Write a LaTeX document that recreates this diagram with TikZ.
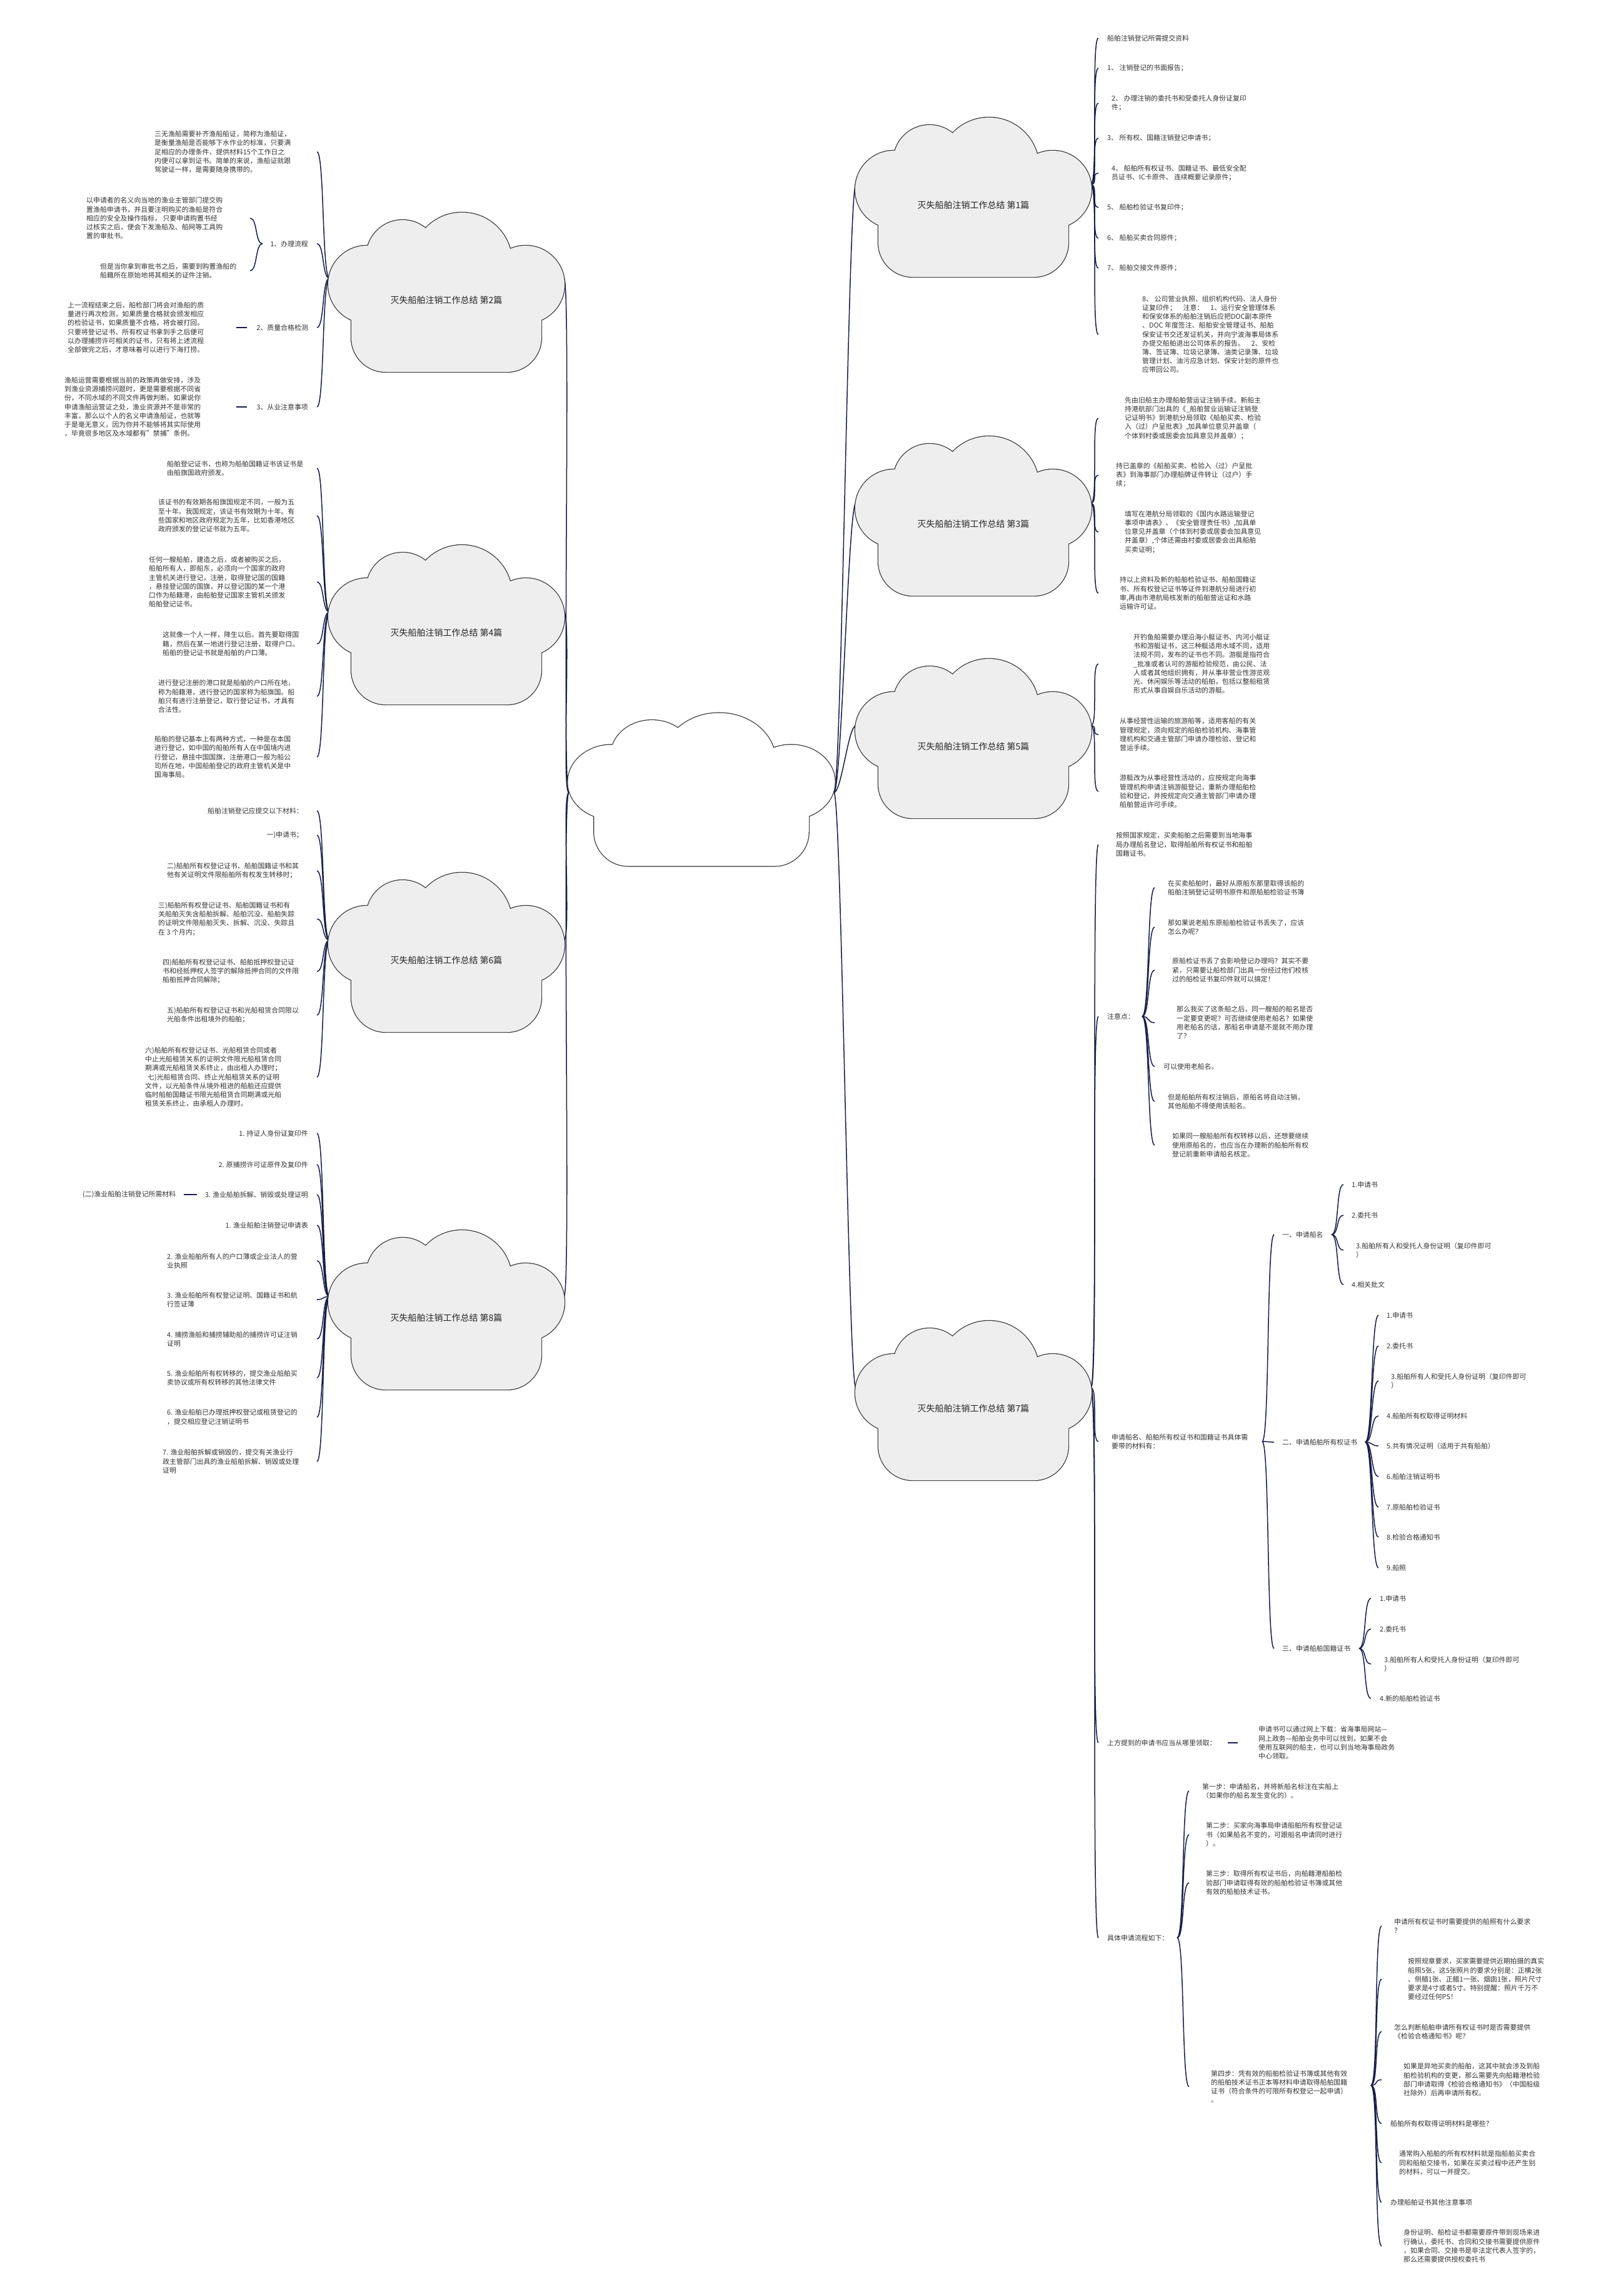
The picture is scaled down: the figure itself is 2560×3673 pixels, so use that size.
\documentclass[tikz,border=0pt]{standalone}
\usepackage{fontspec}
\setmainfont{Noto Sans CJK SC}
\usepackage{xcolor}
\usepackage{tikz}
\usetikzlibrary{calc}
\definecolor{navy}{RGB}{22,27,72}
\definecolor{ink}{RGB}{51,51,51}
\definecolor{puff}{RGB}{238,238,238}

% cloud outline: puffs drawn with a wide stroke, then filled over one by one
\tikzset{
  pics/cloudpic/.style={code={
    \draw[black!80, line width=2.4pt]
      (-127,-25) circle[radius=62] (-70,-70) circle[radius=58]
      (25,-60) circle[radius=80] (127,-25) circle[radius=62]
      [rounded corners=55pt] (-152,-30) rectangle (152,115);
    \fill[#1] (-127,-25) circle[radius=62];
    \fill[#1] (-70,-70) circle[radius=58];
    \fill[#1] (25,-60) circle[radius=80];
    \fill[#1] (127,-25) circle[radius=62];
    \fill[#1, rounded corners=55pt] (-152,-30) rectangle (152,115);
  }},
}

\begin{document}
\begin{tikzpicture}[
  x=1pt, y=-1pt,
  every node/.style={font=\fontsize{10.9}{14.2}\selectfont, text=ink, inner sep=0pt, align=left},
  txt/.style={anchor=west},
  rtxt/.style={anchor=east, align=right},
  topic/.style={font=\fontsize{14}{16}\selectfont, text=black!85},
  link/.style={draw=navy, line width=1.5pt},
  lbrace/.style={link, to path={.. controls +(-12,0) and +(12,0) .. (\tikztotarget)}},
  rbrace/.style={link, to path={.. controls +(12,0) and +(-12,0) .. (\tikztotarget)}},
]
\fill[white] (0,0) rectangle (2560,3673);
\useasboundingbox (0,0) rectangle (2560,3673);

% meeting points of the branches
\coordinate (hl) at (910,1268);
\coordinate (hr) at (1334,1268);
\coordinate (p1) at (1745,295);
\coordinate (p3) at (1745,805);
\coordinate (p5) at (1745,1161);
\coordinate (p7) at (1745,2220);
\coordinate (p2) at (527,445);
\coordinate (p4) at (527,979);
\coordinate (p6) at (527,1504);
\coordinate (p8) at (527,2074);
\coordinate (el) at (507,0);
\coordinate (er) at (1757,0);

% Part 2 (left, top)
\node[txt] (t2a) at (247,243) {三无渔船需要补齐渔船船证，简称为渔船证，\\是衡量渔船是否能够下水作业的标准，只要满\\足相应的办理条件，提供材料15个工作日之\\内便可以拿到证书。简单的来说，渔船证就跟\\驾驶证一样，是需要随身携带的。};
\node[rtxt] (l21) at (493,390) {1、办理流程};
\node[txt] (t2b) at (138,349) {以申请者的名义向当地的渔业主管部门提交购\\置渔船申请书，并且要注明购买的渔船是符合\\相应的安全及操作指标， 只要申请购置书经\\过核实之后，便会下发渔船及、船网等工具购\\置的审批书。};
\node[txt] (t2c) at (160,433) {但是当你拿到审批书之后，需要到购置渔船的\\船籍所在原始地将其相关的证件注销。};
\node[rtxt] (l22) at (493,524) {2、质量合格检测};
\node[txt] (t2d) at (108,524) {上一流程结束之后，船检部门将会对渔船的质\\量进行再次检测，如果质量合格就会颁发相应\\的检验证书，如果质量不合格，将会被打回。\\只要将登记证书、所有权证书拿到手之后便可\\以办理捕捞许可相关的证书，只有将上述流程\\全部做完之后，才意味着可以进行下海打捞。};
\node[rtxt] (l23) at (493,651) {3、从业注意事项};
\node[txt] (t2e) at (103,651) {渔船运营需要根据当前的政策再做安排，涉及\\到渔业资源捕捞问题时，更是需要根据不同省\\份，不同水域的不同文件再做判断。如果说你\\申请渔船运营证之处，渔业资源并不是非常的\\丰富，那么以个人的名义申请渔船证，也就等\\于是毫无意义，因为你并不能够将其实际使用\\，毕竟很多地区及水域都有"禁捕"条例。};
\coordinate (b21) at (420,390);
\coordinate (e21) at (400,0);

% Part 4
\node[txt] (t4a) at (267,749) {船舶登记证书，也称为船舶国籍证书该证书是\\由船旗国政府颁发。};
\node[txt] (t4b) at (253,825) {该证书的有效期各船旗国规定不同，一般为五\\至十年。我国规定，该证书有效期为十年。有\\些国家和地区政府规定为五年，比如香港地区\\政府颁发的登记证书就为五年。};
\node[txt] (t4c) at (238,931) {任何一艘船舶，建造之后，或者被购买之后，\\船舶所有人，即船东，必须向一个国家的政府\\主管机关进行登记，注册，取得登记国的国籍\\，悬挂登记国的国旗，并以登记国的某一个港\\口作为船籍港，由船舶登记国家主管机关颁发\\船舶登记证书。};
\node[txt] (t4d) at (260,1030) {这就像一个人一样，降生以后，首先要取得国\\籍，然后在某一地进行登记注册，取得户口。\\船舶的登记证书就是船舶的户口薄。};
\node[txt] (t4e) at (253,1114) {进行登记注册的港口就是船舶的户口所在地，\\称为船籍港，进行登记的国家称为船旗国。船\\舶只有进行注册登记，取行登记证书，才具有\\合法性。};
\node[txt] (t4f) at (247,1211) {船舶的登记基本上有两种方式，一种是在本国\\进行登记，如中国的船舶所有人在中国境内进\\行登记，悬挂中国国旗，注册港口一般为船公\\司所在地，中国船舶登记的政府主管机关是中\\国海事局。};

% Part 6
\node[rtxt] (t6a) at (485,1297) {船舶注销登记应提交以下材料：};
\node[rtxt] (t6b) at (485,1336) {一)申请书；};
\node[txt] (t6c) at (267,1393) {二)船舶所有权登记证书、船舶国籍证书和其\\他有关证明文件限船舶所有权发生转移时；};
\node[txt] (t6d) at (253,1470) {三)船舶所有权登记证书、船舶国籍证书和有\\关船舶灭失含船舶拆解、船舶沉没、船舶失踪\\的证明文件限船舶灭失、拆解、沉没、失踪且\\在 3 个月内；};
\node[txt] (t6e) at (260,1554) {四)船舶所有权登记证书、船舶抵押权登记证\\书和经抵押权人签字的解除抵押合同的文件限\\船舶抵押合同解除；};
\node[txt] (t6f) at (267,1624) {五)船舶所有权登记证书和光船租赁合同限以\\光船条件出租境外的船舶；};
\node[txt] (t6g) at (232,1723) {六)船舶所有权登记证书、光船租赁合同或者\\中止光船租赁关系的证明文件限光船租赁合同\\期满或光船租赁关系终止，由出租人办理时；\\\hspace*{4pt}七)光船租赁合同、终止光船租赁关系的证明\\文件，以光船条件从境外租进的船舶还应提供\\临时船舶国籍证书限光船租赁合同期满或光船\\租赁关系终止，由承租人办理时。};

% Part 8
\node[rtxt] (t8a) at (493,1813) {1. 持证人身份证复印件};
\node[rtxt] (t8b) at (493,1863) {2. 原捕捞许可证原件及复印件};
\node[rtxt] (t8c) at (493,1911) {3. 渔业船舶拆解、销毁或处理证明};
\node[txt] (t8x) at (132,1911) {(二)渔业船舶注销登记所需材料};
\node[rtxt] (t8d) at (493,1960) {1. 渔业船舶注销登记申请表};
\node[txt] (t8e) at (267,2017) {2. 渔业船舶所有人的户口薄或企业法人的营\\业执照};
\node[txt] (t8f) at (267,2079) {3. 渔业船舶所有权登记证明、国籍证书和航\\行签证薄};
\node[txt] (t8g) at (267,2142) {4. 捕捞渔船和捕捞辅助船的捕捞许可证注销\\证明};
\node[txt] (t8h) at (267,2204) {5. 渔业船舶所有权转移的，提交渔业船舶买\\卖协议或所有权转移的其他法律文件};
\node[txt] (t8i) at (267,2267) {6. 渔业船舶已办理抵押权登记或租赁登记的\\，提交相应登记注销证明书};
\node[txt] (t8j) at (260,2338) {7. 渔业船舶拆解或销毁的，提交有关渔业行\\政主管部门出具的渔业船舶拆解、销毁或处理\\证明};

% Part 1 (right, top)
\node[txt] (r1a) at (1771,61) {船舶注销登记所需提交资料};
\node[txt] (r1b) at (1771,109) {1、 注销登记的书面报告；};
\node[txt] (r1c) at (1778,165) {2、 办理注销的委托书和受委托人身份证复印\\件；};
\node[txt] (r1d) at (1771,221) {3、 所有权、国籍注销登记申请书；};
\node[txt] (r1e) at (1778,277) {4、 船舶所有权证书、国籍证书、最低安全配\\员证书、IC卡原件、 连续概要记录原件；};
\node[txt] (r1f) at (1771,332) {5、 船舶检验证书复印件；};
\node[txt] (r1g) at (1771,381) {6、 船舶买卖合同原件；};
\node[txt] (r1h) at (1771,429) {7、 船舶交接文件原件；};
\node[txt] (r1i) at (1827,535) {8、 公司营业执照、组织机构代码、法人身份\\证复印件；\quad 注意：\quad 1、运行安全管理体系\\和保安体系的船舶注销后应把DOC副本原件\\、DOC 年度签注、船舶安全管理证书、船舶\\保安证书交还发证机关，并向宁波海事局体系\\办提交船舶退出公司体系的报告。\quad 2、安检\\簿、签证簿、垃圾记录簿、油类记录簿、垃圾\\管理计划、油污应急计划、保安计划的原件也\\应带回公司。};

% Part 3
\node[txt] (r3a) at (1799,669) {先由旧船主办理船舶营运证注销手续。新船主\\持港航部门出具的《\_船舶营业运输证注销登\\记证明书》到港航分局领取《船舶买卖、检验\\入（过）户呈批表》,加具单位意见并盖章（\\个体到村委或居委会加具意见并盖章）；};
\node[txt] (r3b) at (1785,760) {持已盖章的《船舶买卖、检验入（过）户呈批\\表》到海事部门办理船牌证件转让（过户）手\\续；};
\node[txt] (r3c) at (1799,851) {填写在港航分局领取的《国内水路运输登记\\事项申请表》、《安全管理责任书》,加具单\\位意见并盖章（个体到村委或居委会加具意见\\并盖章）,个体还需由村委或居委会出具船舶\\买卖证明；};
\node[txt] (r3d) at (1791,949) {持以上资料及新的船舶检验证书、船舶国籍证\\书、所有权登记证书等证件到港航分局进行初\\审,再由市港航局核发新的船舶营运证和水路\\运输许可证。};

% Part 5
\node[txt] (r5a) at (1813,1062) {开钓鱼船需要办理沿海小艇证书、内河小艇证\\书和游艇证书，这三种艇适用水域不同，适用\\法规不同，发布的证书也不同。游艇是指符合\\\_批准或者认可的游艇检验规范，由公民、法\\人或者其他组织拥有，并从事非营业性游览观\\光、休闲娱乐等活动的船舶，包括以整船租赁\\形式从事自娱自乐活动的游艇。};
\node[txt] (r5b) at (1791,1175) {从事经营性运输的旅游船等，适用客船的有关\\管理规定，须向规定的船舶检验机构、海事管\\理机构和交通主管部门申请办理检验、登记和\\营运手续。};
\node[txt] (r5c) at (1791,1266) {游艇改为从事经营性活动的，应按规定向海事\\管理机构申请注销游艇登记，重新办理船舶检\\验和登记，并按规定向交通主管部门申请办理\\船舶营运许可手续。};

% Part 7
\node[txt] (r7a) at (1785,1351) {按照国家规定，买卖船舶之后需要到当地海事\\局办理船名登记，取得船舶所有权证书和船舶\\国籍证书。};
\node[txt] (r7b) at (1771,1626) {注意点：};
\node[txt] (n1) at (1868,1420) {在买卖船舶时，最好从原船东那里取得该船的\\船舶注销登记证明书原件和原船舶检验证书簿};
\node[txt] (n2) at (1868,1483) {那如果说老船东原船舶检验证书丢失了，应该\\怎么办呢？};
\node[txt] (n3) at (1875,1552) {原船检证书丢了会影响登记办理吗？其实不要\\紧，只需要让船检部门出具一份经过他们校核\\过的船检证书复印件就可以搞定！};
\node[txt] (n4) at (1882,1636) {那么我买了这条船之后，同一艘船的船名是否\\一定要变更呢？可否继续使用老船名？如果使\\用老船名的话，那船名申请是不是就不用办理\\了？};
\node[txt] (n5) at (1861,1706) {可以使用老船名。};
\node[txt] (n6) at (1868,1762) {但是船舶所有权注销后，原船名将自动注销，\\其他船舶不得使用该船名。};
\node[txt] (n7) at (1875,1832) {如果同一艘船舶所有权转移以后，还想要继续\\使用原船名的，也应当在办理新的船舶所有权\\登记前重新申请船名核定。};
\node[txt] (r7c) at (1778,2306) {申请船名、船舶所有权证书和国籍证书具体需\\要带的材料有：};
\node[txt] (s1) at (2051,1975) {一、申请船名};
\node[txt] (s1a) at (2162,1895) {1.申请书};
\node[txt] (s1b) at (2162,1944) {2.委托书};
\node[txt] (s1c) at (2169,2000) {3.船舶所有人和受托人身份证明（复印件即可\\）};
\node[txt] (s1d) at (2162,2055) {4.相关批文};
\node[txt] (s2) at (2051,2307) {二、申请船舶所有权证书};
\node[txt] (s2a) at (2218,2104) {1.申请书};
\node[txt] (s2b) at (2218,2153) {2.委托书};
\node[txt] (s2c) at (2225,2209) {3.船舶所有人和受托人身份证明（复印件即可\\）};
\node[txt] (s2d) at (2218,2265) {4.船舶所有权取得证明材料};
\node[txt] (s2e) at (2218,2313) {5.共有情况证明（适用于共有船舶）};
\node[txt] (s2f) at (2218,2362) {6.船舶注销证明书};
\node[txt] (s2g) at (2218,2411) {7.原船舶检验证书};
\node[txt] (s2h) at (2218,2459) {8.检验合格通知书};
\node[txt] (s2i) at (2218,2508) {9.船照};
\node[txt] (s3) at (2051,2637) {三、申请船舶国籍证书};
\node[txt] (s3a) at (2207,2557) {1.申请书};
\node[txt] (s3b) at (2207,2606) {2.委托书};
\node[txt] (s3c) at (2214,2662) {3.船舶所有人和受托人身份证明（复印件即可\\）};
\node[txt] (s3d) at (2207,2717) {4.新的船舶检验证书};
\node[txt] (r7d) at (1771,2788) {上方提到的申请书应当从哪里领取：};
\node[txt] (r7x) at (2013,2788) {申请书可以通过网上下载：省海事局网站—\\网上政务—船舶业务中可以找到，如果不会\\使用互联网的船主，也可以到当地海事局政务\\中心领取。};
\node[txt] (r7e) at (1771,3100) {具体申请流程如下：};
\node[txt] (f1) at (1923,2865) {第一步：申请船名，并将新船名标注在实船上\\（如果你的船名发生变化的）。};
\node[txt] (f2) at (1929,2935) {第二步：买家向海事局申请船舶所有权登记证\\书（如果船名不变的，可跟船名申请同时进行\\）。};
\node[txt] (f3) at (1929,3012) {第三步：取得所有权证书后，向船籍港船舶检\\验部门申请取得有效的船舶检验证书簿或其他\\有效的船舶技术证书。};
\node[txt] (f4) at (1937,3338) {第四步：凭有效的船舶检验证书簿或其他有效\\的船舶技术证书正本等材料申请取得船舶国籍\\证书（符合条件的可限所有权登记一起申请）\\。};
\node[txt] (q1) at (2230,3081) {申请所有权证书时需要提供的船照有什么要求\\？};
\node[txt] (a1) at (2252,3166) {按照规章要求，买家需要提供近期拍摄的真实\\船照5张，这5张照片的要求分别是：正横2张\\、侧艏1张、正艏1一张、烟囱1张，照片尺寸\\要求是4寸或者5寸。特别提醒：照片千万不\\要经过任何PS！};
\node[txt] (q2) at (2230,3250) {怎么判断船舶申请所有权证书时是否需要提供\\《检验合格通知书》呢？};
\node[txt] (a2) at (2245,3327) {如果是异地买卖的船舶，这其中就会涉及到船\\舶检验机构的变更，那么需要先向船籍港检验\\部门申请取得《检验合格通知书》（中国船级\\社除外）后再申请所有权。};
\node[txt] (q3) at (2224,3397) {船舶所有权取得证明材料是哪些？};
\node[txt] (a3) at (2238,3460) {通常购入船舶的所有权材料就是指船舶买卖合\\同和船舶交接书，如果在买卖过程中还产生别\\的材料，可以一并提交。};
\node[txt] (q4) at (2224,3523) {办理船舶证书其他注意事项};
\node[txt] (a4) at (2245,3593) {身份证明、船检证书都需要原件带到现场来进\\行确认，委托书、合同和交接书需要提供原件\\，如果合同、交接书是非法定代表人签字的，\\那么还需要提供授权委托书};
\coordinate (b7b) at (1827,1626);   \coordinate (e7b) at (1847,0);
\coordinate (b7c) at (2019,2306);   \coordinate (e7c) at (2038,0);
\coordinate (bs1) at (2130,1975);   \coordinate (es1) at (2149,0);
\coordinate (bs2) at (2184,2307);   \coordinate (es2) at (2205,0);
\coordinate (bs3) at (2174,2637);   \coordinate (es3) at (2193,0);
\coordinate (b7e) at (1883,3100);   \coordinate (e7e) at (1902,0);
\coordinate (bf4) at (2193,3336);   \coordinate (ef4) at (2210,0);

% hub to the eight clouds
\draw[lbrace] (hl) to (902,445);
\draw[lbrace] (hl) to (902,979);
\draw[lbrace] (hl) to (902,1504);
\draw[lbrace] (hl) to (902,2074);
\draw[rbrace] (hr) to (1369,295);
\draw[rbrace] (hr) to (1369,805);
\draw[rbrace] (hr) to (1369,1161);
\draw[rbrace] (hr) to (1369,2220);

% left branches
\draw[lbrace] (p2) to (el |- t2a.east);
\draw[lbrace] (p2) to (el |- l21.east);
\draw[lbrace] (p2) to (el |- l22.east);
\draw[lbrace] (p2) to (el |- l23.east);
\draw[lbrace] (b21) to (e21 |- t2b.east);
\draw[lbrace] (b21) to (e21 |- t2c.east);
\draw[link, shorten <=15pt, shorten >=52pt] (l22.west) -- (t2d.east);
\draw[link, shorten <=15pt, shorten >=57pt] (l23.west) -- (t2e.east);
\draw[lbrace] (p4) to (el |- t4a.east);
\draw[lbrace] (p4) to (el |- t4b.east);
\draw[lbrace] (p4) to (el |- t4c.east);
\draw[lbrace] (p4) to (el |- t4d.east);
\draw[lbrace] (p4) to (el |- t4e.east);
\draw[lbrace] (p4) to (el |- t4f.east);
\draw[lbrace] (p6) to (el |- t6a.east);
\draw[lbrace] (p6) to (el |- t6b.east);
\draw[lbrace] (p6) to (el |- t6c.east);
\draw[lbrace] (p6) to (el |- t6d.east);
\draw[lbrace] (p6) to (el |- t6e.east);
\draw[lbrace] (p6) to (el |- t6f.east);
\draw[lbrace] (p6) to (el |- t6g.east);
\draw[lbrace] (p8) to (el |- t8a.east);
\draw[lbrace] (p8) to (el |- t8b.east);
\draw[lbrace] (p8) to (el |- t8c.east);
\draw[lbrace] (p8) to (el |- t8d.east);
\draw[lbrace] (p8) to (el |- t8e.east);
\draw[lbrace] (p8) to (el |- t8f.east);
\draw[lbrace] (p8) to (el |- t8g.east);
\draw[lbrace] (p8) to (el |- t8h.east);
\draw[lbrace] (p8) to (el |- t8i.east);
\draw[lbrace] (p8) to (el |- t8j.east);
\draw[link, shorten <=13pt, shorten >=13pt] (t8c.west) -- (t8x.east);

% right branches
\draw[rbrace] (p1) to (er |- r1a.west);
\draw[rbrace] (p1) to (er |- r1b.west);
\draw[rbrace] (p1) to (er |- r1c.west);
\draw[rbrace] (p1) to (er |- r1d.west);
\draw[rbrace] (p1) to (er |- r1e.west);
\draw[rbrace] (p1) to (er |- r1f.west);
\draw[rbrace] (p1) to (er |- r1g.west);
\draw[rbrace] (p1) to (er |- r1h.west);
\draw[rbrace] (p1) to (er |- r1i.west);
\draw[rbrace] (p3) to (er |- r3a.west);
\draw[rbrace] (p3) to (er |- r3b.west);
\draw[rbrace] (p3) to (er |- r3c.west);
\draw[rbrace] (p3) to (er |- r3d.west);
\draw[rbrace] (p5) to (er |- r5a.west);
\draw[rbrace] (p5) to (er |- r5b.west);
\draw[rbrace] (p5) to (er |- r5c.west);
\draw[rbrace] (p7) to (er |- r7a.west);
\draw[rbrace] (p7) to (er |- r7b.west);
\draw[rbrace] (p7) to (er |- r7c.west);
\draw[rbrace] (p7) to (er |- r7d.west);
\draw[rbrace] (p7) to (er |- r7e.west);
\draw[rbrace] (b7b) to (e7b |- n1.west);
\draw[rbrace] (b7b) to (e7b |- n2.west);
\draw[rbrace] (b7b) to (e7b |- n3.west);
\draw[rbrace] (b7b) to (e7b |- n4.west);
\draw[rbrace] (b7b) to (e7b |- n5.west);
\draw[rbrace] (b7b) to (e7b |- n6.west);
\draw[rbrace] (b7b) to (e7b |- n7.west);
\draw[rbrace] (b7c) to (e7c |- s1.west);
\draw[rbrace] (b7c) to (e7c |- s2.west);
\draw[rbrace] (b7c) to (e7c |- s3.west);
\draw[rbrace] (bs1) to (es1 |- s1a.west);
\draw[rbrace] (bs1) to (es1 |- s1b.west);
\draw[rbrace] (bs1) to (es1 |- s1c.west);
\draw[rbrace] (bs1) to (es1 |- s1d.west);
\draw[rbrace] (bs2) to (es2 |- s2a.west);
\draw[rbrace] (bs2) to (es2 |- s2b.west);
\draw[rbrace] (bs2) to (es2 |- s2c.west);
\draw[rbrace] (bs2) to (es2 |- s2d.west);
\draw[rbrace] (bs2) to (es2 |- s2e.west);
\draw[rbrace] (bs2) to (es2 |- s2f.west);
\draw[rbrace] (bs2) to (es2 |- s2g.west);
\draw[rbrace] (bs2) to (es2 |- s2h.west);
\draw[rbrace] (bs2) to (es2 |- s2i.west);
\draw[rbrace] (bs3) to (es3 |- s3a.west);
\draw[rbrace] (bs3) to (es3 |- s3b.west);
\draw[rbrace] (bs3) to (es3 |- s3c.west);
\draw[rbrace] (bs3) to (es3 |- s3d.west);
\draw[link, shorten <=18pt, shorten >=33pt] (r7d.east) -- (r7x.west);
\draw[rbrace] (b7e) to (e7e |- f1.west);
\draw[rbrace] (b7e) to (e7e |- f2.west);
\draw[rbrace] (b7e) to (e7e |- f3.west);
\draw[rbrace] (b7e) to (e7e |- f4.west);
\draw[rbrace] (bf4) to (ef4 |- q1.west);
\draw[rbrace] (bf4) to (ef4 |- a1.west);
\draw[rbrace] (bf4) to (ef4 |- q2.west);
\draw[rbrace] (bf4) to (ef4 |- a2.west);
\draw[rbrace] (bf4) to (ef4 |- q3.west);
\draw[rbrace] (bf4) to (ef4 |- a3.west);
\draw[rbrace] (bf4) to (ef4 |- q4.west);
\draw[rbrace] (bf4) to (ef4 |- a4.west);

% clouds on top
\pic[xscale=1.13, yscale=0.96] at (1122,1275) {cloudpic=white};
\pic at (1557,328) {cloudpic=puff};
\pic at (714,480) {cloudpic=puff};
\pic at (1557,838) {cloudpic=puff};
\pic at (714,1012) {cloudpic=puff};
\pic at (1557,1194) {cloudpic=puff};
\pic at (714,1536) {cloudpic=puff};
\pic at (1557,2253) {cloudpic=puff};
\pic at (714,2108) {cloudpic=puff};
\node[topic] (c1) at (1557,328) {灭失船舶注销工作总结 第1篇};
\node[topic] (c2) at (714,480) {灭失船舶注销工作总结 第2篇};
\node[topic] (c3) at (1557,838) {灭失船舶注销工作总结 第3篇};
\node[topic] (c4) at (714,1012) {灭失船舶注销工作总结 第4篇};
\node[topic] (c5) at (1557,1194) {灭失船舶注销工作总结 第5篇};
\node[topic] (c6) at (714,1536) {灭失船舶注销工作总结 第6篇};
\node[topic] (c7) at (1557,2253) {灭失船舶注销工作总结 第7篇};
\node[topic] (c8) at (714,2108) {灭失船舶注销工作总结 第8篇};
\end{tikzpicture}
\end{document}
